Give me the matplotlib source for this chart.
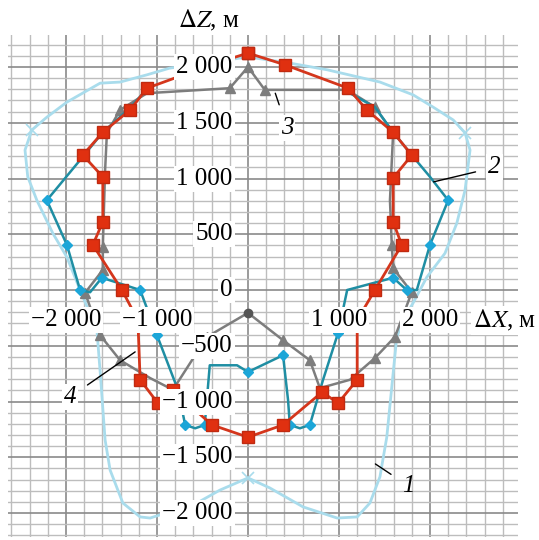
import matplotlib.pyplot as plt
import numpy as np

# curve 1 (light blue, smooth)
x1 = [0, -860, -1110, -1405, -1625, -1990, -2210, -2375, -2450, -2420, -2320, -2145, -1990, -1845,
      -1660, -1620, -1570, -1515, -1375, -1185, -1075, -560, -310, 0, 240, 605, 980, 1200, 1340,
      1450, 1525, 1580, 1635, 1705, 1815, 1965, 2165, 2295, 2385, 2440, 2385, 2255, 2035, 1815,
      1450, 870, 460, 0]
z1 = [2090, 1990, 1930, 1865, 1855, 1685, 1550, 1435, 1255, 1015, 805, 510, 295, 0,
      -360, -780, -1345, -1615, -1910, -2035, -2045, -1910, -1795, -1685, -1775, -1945, -2045,
      -2035, -1910, -1675, -1320, -870, -420, -270, -115, 115, 330, 600, 895, 1255, 1410, 1525,
      1640, 1750, 1865, 1975, 2035, 2090]

# curve 2 (teal, diamonds)
x2 = [-1100, -1320, -1595, -1815, -2210, -1990, -1845, -1735, -1605, -1185, -1000, -770, -690,
      -580, -475, -420, -120, 0, 385, 440, 460, 570, 680, 825, 990, 1090, 1595, 1745, 1855,
      2000, 2200, 2000, 1815, 1595, 1395, 1120]
z2 = [1810, 1615, 1415, 1195, 805, 405, 0, -20, 110, 0, -405, -895, -1210,
      -1240, -1210, -675, -675, -735, -585, -985, -1210, -1240, -1210, -805, -385, 0, 110, 0, 0,
      405, 805, 1015, 1195, 1415, 1640, 1765]

# curve 3 (gray, triangles)
x3 = [0, -200, -1110, -1405, -1550, -1570, -1595, -1595, -1790, -1625, -1405, -1075, -825,
      -450, 0, 385, 680, 790, 1120, 1395, 1615, 1800, 1595, 1580, 1560, 1595, 1395, 1090, 185, 0]
z3 = [2000, 1810, 1765, 1615, 1410, 1075, 385, 180, -25, -405, -630, -790, -895,
      -420, -205, -450, -630, -880, -805, -610, -420, -20, 195, 405, 805, 1410, 1640, 1795, 1795, 2000]

# curve 4 (red, squares)
x4 = [0, 405, 1100, 1305, 1595, 1800, 1595, 1595, 1690, 1395, 1200, 1200, 990, 815, 385, 0,
      -395, -825, -990, -1185, -1210, -1385, -1705, -1595, -1595, -1815, -1595, -1295, -1110, -405, 0]
z4 = [2125, 2020, 1810, 1615, 1415, 1210, 1005, 610, 405, 0, -270, -805, -1015, -915, -1210, -1320,
      -1210, -900, -1015, -805, -270, 0, 405, 610, 1015, 1210, 1415, 1615, 1810, 2020, 2125]

yticks = [2000, 1500, 1000, 500, 0, -500, -1000, -1500, -2000]
ytick_labels = ['2 000', '1 500', '1 000', '500', '0', '\u2212500', '\u22121 000', '\u22121 500', '\u22122 000']
xticks = [-2000, -1000, 1000, 2000]
xtick_labels = ['\u22122 000', '\u22121 000', '1 000', '2 000']

plt.rcParams['font.family'] = ['Liberation Serif', 'DejaVu Serif']
plt.rcParams['mathtext.fontset'] = 'stix'

fig = plt.figure(figsize=(5.39, 5.40), dpi=100)
ax = fig.add_axes([8/539, 3/540, 510/539, 502/540])
ax.set_xlim(-2637, 2967)
ax.set_ylim(-2215, 2287)

# grid
for gx in np.arange(-2600, 3000, 200):
    major = gx % 1000 == 0
    ax.axvline(gx, color='#8a8a8a' if major else '#bdbdbd', lw=1.2 if major else 1.0, zorder=0)
for gz in np.arange(-2200, 2300, 100):
    major = gz % 500 == 0
    ax.axhline(gz, color='#8a8a8a' if major else '#bdbdbd', lw=1.2 if major else 1.0, zorder=0)
for s in ax.spines.values():
    s.set_visible(False)
ax.set_xticks([])
ax.set_yticks([])

ax.plot(x1, z1, color='#a9dcec', lw=2.0, zorder=2)
ax.plot([x1[7], x1[23], x1[40]], [z1[7], z1[23], z1[40]], ls='none', marker='x',
        color='#a9dcec', ms=8, mew=1.2, zorder=2)

ax.plot(x3, z3, color='#7d7d7d', lw=1.8, zorder=3)
tri = [0, 1, 3, 6, 7, 8, 9, 10, 13, 15, 16, 19, 20, 21, 22, 23, 26, 28]
ax.plot([x3[i] for i in tri], [z3[i] for i in tri], ls='none', marker='^',
        color='#7d7d7d', ms=7.5, zorder=3)
ax.plot([x3[14]], [z3[14]], ls='none', marker='o', color='#555555', ms=6, zorder=3)

ax.plot(x2, z2, color='#1f8ea3', lw=1.8, zorder=4)
dia = [4, 5, 6, 8, 9, 10, 12, 14, 17, 18, 20, 22, 24, 26, 27, 29, 30]
ax.plot([x2[i] for i in dia], [z2[i] for i in dia], ls='none', marker='D',
        color='#1ca6d8', ms=5, zorder=4)

ax.plot(x4, z4, color='#d4361c', lw=2.0, marker='s', ms=8, mfc='#e03010',
        mec='#c02a10', zorder=5)

fs = 18
box = dict(boxstyle='square,pad=0.08', fc='white', ec='none')
for v, lab in zip(yticks, ytick_labels):
    ax.text(-170, v, lab, ha='right', va='center', fontsize=fs, bbox=box, zorder=6)
for v, lab in zip(xticks, xtick_labels):
    ax.text(v, -270, lab, ha='center', va='center', fontsize=fs, bbox=box, zorder=6)

ax.text(-90, 2420, r'$\Delta\mathit{Z}$, м', ha='right', va='center', fontsize=fs,
        clip_on=False)
ax.text(2470, -270, r'$\Delta\mathit{X}$, м', ha='left', va='center', fontsize=fs,
        bbox=box, zorder=6)

# curve numbers with leader lines
ax.annotate('1', xy=(1400, -1560), xytext=(1760, -1755), fontsize=fs, style='italic',
            ha='center', va='center', zorder=7,
            arrowprops=dict(arrowstyle='-', color='black', lw=1, shrinkA=7, shrinkB=0))
ax.annotate('2', xy=(2040, 970), xytext=(2710, 1100), fontsize=fs, style='italic',
            ha='center', va='center', zorder=7, bbox=box,
            arrowprops=dict(arrowstyle='-', color='black', lw=1, shrinkA=8, shrinkB=0))
ax.annotate('3', xy=(300, 1765), xytext=(430, 1450), fontsize=fs, style='italic',
            ha='center', va='center', zorder=7, bbox=box,
            arrowprops=dict(arrowstyle='-', color='black', lw=1, shrinkA=8, shrinkB=0))
ax.annotate('4', xy=(-1240, -555), xytext=(-1955, -960), fontsize=fs, style='italic',
            ha='center', va='center', zorder=7, bbox=box,
            arrowprops=dict(arrowstyle='-', color='black', lw=1, shrinkA=8, shrinkB=0))

fig.savefig('out.png', dpi=100)
